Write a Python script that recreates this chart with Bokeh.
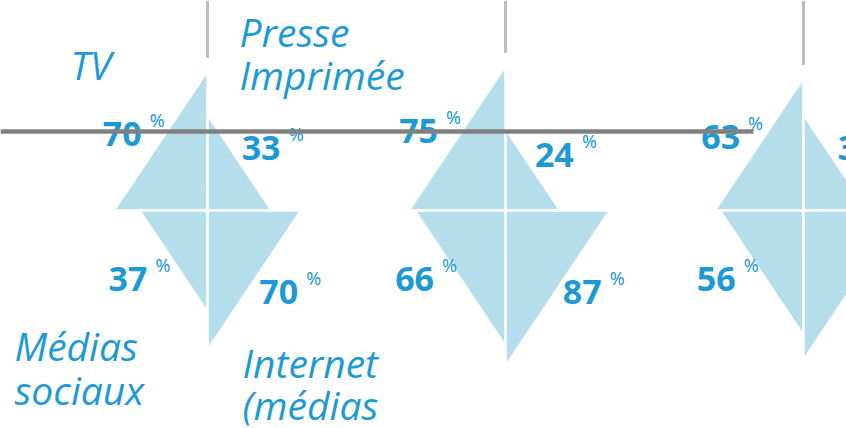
import numpy as np
from bokeh.plotting import figure
from bokeh.models import Range1d, ColumnDataSource
from bokeh.core.properties import value
from bokeh.embed import file_html
from bokeh.resources import INLINE

# ---- data (percent) ----
tv = [70, 75, 63]          # top-left quadrant
presse = [33, 24, 33]      # top-right quadrant
sociaux = [37, 66, 56]     # bottom-left quadrant
internet = [70, 87, 80]    # bottom-right quadrant
cat_tv = ["TV"]
cat_presse = ["Presse", "Imprimée"]
cat_sociaux = ["Médias", "sociaux"]
cat_internet = ["Internet", "(médias"]

# ---- layout constants ----
CX = [207, 505, 803]
CY = 210
K = 16.7        # px per sqrt(percent) (area-proportional triangles)
RATIO = 0.67    # width / height of each triangle
DY = -14        # baseline correction for text rendering

TRI = "#b4deeb"
BLUE = "#1d9ad6"
FONT_LBL = value("Open Sans")
FONT_NUM = value("Noto Sans")

p = figure(width=846, height=428, x_range=Range1d(0, 846), y_range=Range1d(428, 0),
           output_backend="svg", toolbar_location=None, min_border=0,
           x_axis_location=None, y_axis_location=None)
p.grid.visible = False
p.outline_line_color = None
p.background_fill_color = "white"

xs, ys = [], []
nums = {"x": [], "y": [], "t": [], "align": []}
pct = {"x": [], "y": []}
vx0, vy1 = [], []

def add_num(x, base, txt, align):
    nums["x"].append(x); nums["y"].append(base + DY); nums["t"].append(txt); nums["align"].append(align)
    px = x + 8 if align == "right" else x + 47
    pct["x"].append(px); pct["y"].append(base - 14 + DY)

for i, c in enumerate(CX):
    # top-left
    h = K * np.sqrt(tv[i]); w = RATIO * h
    xs.append([c, c, c - w]); ys.append([CY, CY - h, CY])
    mx, my = c - w / 2, CY - h / 2
    add_num(mx - 19, my + 7, str(tv[i]), "right")
    vx0.append(c); vy1.append(CY - h - 13)
    # top-right
    h = K * np.sqrt(presse[i]); w = RATIO * h
    xs.append([c, c, c + w]); ys.append([CY, CY - h, CY])
    mx, my = c + w / 2, CY - h / 2
    add_num(mx + 2, my - 1, str(presse[i]), "left")
    # bottom-left
    h = K * np.sqrt(sociaux[i]); w = RATIO * h
    xs.append([c, c, c - w]); ys.append([CY, CY + h, CY])
    mx, my = c - w / 2, CY + h / 2
    add_num(mx - 26, CY + 82, str(sociaux[i]), "right")
    # bottom-right
    h = K * np.sqrt(internet[i]); w = RATIO * h
    xs.append([c, c, c + w]); ys.append([CY, CY + h, CY])
    mx, my = c + w / 2, CY + h / 2
    add_num(mx + 5, CY + 95, str(internet[i]), "left")

# gray stems above diamonds
p.segment(x0=vx0, y0=[0] * 3, x1=vx0, y1=vy1, line_color="#bdbdbd", line_width=3)

p.patches(xs, ys, fill_color=TRI, line_color="white", line_width=2.5)

src = ColumnDataSource(dict(x=nums["x"], y=nums["y"], t=nums["t"], a=nums["align"]))
p.text(x="x", y="y", text="t", text_align="a", source=src, text_font=FONT_NUM,
       text_font_style="bold", text_font_size="34px", text_color=BLUE, text_baseline="alphabetic")
p.text(x=pct["x"], y=pct["y"], text=["%"] * len(pct["x"]), text_font=FONT_NUM,
       text_font_size="18px", text_color=BLUE, text_baseline="alphabetic", text_align="left")

# category labels (first diamond)
c0 = CX[0]
def lbl(x, ys_, lines):
    p.text(x=[x] * len(lines), y=[v + DY - 1 for v in ys_], text=lines, text_font=FONT_LBL,
           text_font_style="italic", text_font_size="39px", text_color=BLUE,
           text_baseline="alphabetic", text_align="left")

lbl(c0 - 137, [79], cat_tv)
lbl(c0 + 32, [46, 89], cat_presse)
lbl(c0 - 193, [360, 404], cat_sociaux)
lbl(c0 + 35, [377, 419], cat_internet)

# overlaid gray rule
p.segment(x0=[0], y0=[131], x1=[753], y1=[131], line_color="#808080", line_width=4.5)

open("out.html", "w").write(file_html(p, INLINE))
